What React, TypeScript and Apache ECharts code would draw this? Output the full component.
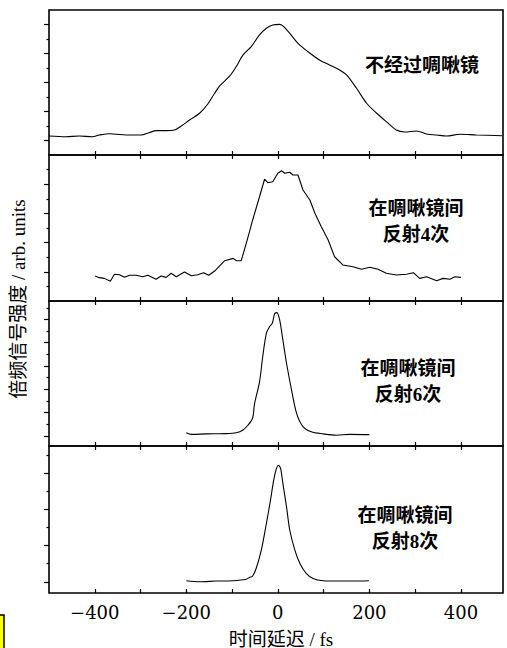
import React, { useEffect, useRef } from "react";
import * as echarts from "echarts";

// ---- data (time delay in fs, SHG intensity in arb. units) ----
const delay1 = [-500, -463, -434, -405, -390, -368, -353, -331, -299, -281, -266, -244, -226, -211, -193, -171, -153, -138, -127, -105, -91, -76, -58, -40, -25, -11, 4, 11, 26, 44, 66, 91, 113, 135, 150, 172, 194, 216, 237, 259, 277, 303, 325, 347, 369, 398, 434, 490];
const signal1 = [1.31, 1.26, 1.31, 1.26, 1.38, 1.47, 1.43, 1.38, 1.38, 1.54, 1.68, 1.68, 1.72, 2.0, 2.41, 2.88, 3.52, 4.26, 4.76, 5.45, 6.09, 6.9, 7.48, 8.28, 8.74, 8.97, 9.01, 8.9, 8.39, 7.7, 7.12, 6.55, 6.21, 5.86, 5.52, 4.6, 3.57, 2.88, 2.3, 1.72, 1.59, 1.66, 1.45, 1.38, 1.31, 1.43, 1.38, 1.33];

const delay2 = [-399, -390, -379, -366, -357, -346, -335, -324, -310, -295, -284, -266, -255, -244, -233, -222, -204, -189, -175, -162, -151, -138, -127, -116, -98, -90, -80, -69, -62, -55, -40, -29, -22, -11, 0, 8, 15, 26, 33, 44, 55, 70, 81, 95, 110, 124, 142, 164, 183, 201, 219, 237, 259, 281, 296, 310, 325, 347, 361, 376, 387, 400];
const signal2 = [1.71, 1.6, 1.55, 1.35, 1.83, 1.8, 1.62, 1.76, 1.76, 1.66, 1.76, 1.49, 1.71, 1.62, 1.9, 1.66, 1.99, 1.73, 1.8, 1.94, 1.76, 2.05, 2.4, 2.76, 2.92, 2.76, 2.76, 3.95, 4.73, 5.55, 7.14, 8.34, 8.1, 8.17, 8.75, 8.92, 8.75, 8.82, 8.63, 8.63, 7.6, 6.92, 6.01, 5.09, 4.18, 3.03, 2.47, 2.35, 2.17, 2.31, 2.17, 1.9, 1.78, 1.83, 1.94, 1.55, 1.66, 1.39, 1.55, 1.49, 1.66, 1.62];

const delay3 = [-200, -189, -156, -113, -91, -76, -65, -55, -51, -40, -33, -25, -18, -12, -7, -2, 4, 11, 19, 30, 41, 55, 73, 99, 128, 157, 200];
const signal3 = [0.14, 0.07, 0.09, 0.1, 0.14, 0.26, 0.47, 0.77, 1.37, 2.32, 3.4, 4.41, 4.69, 4.84, 5.24, 5.29, 4.98, 4.12, 3.12, 1.97, 0.97, 0.4, 0.18, 0.09, 0.03, 0.07, 0.06];

const delay4 = [-200, -171, -135, -98, -69, -62, -55, -47, -36, -25, -16, -9, -3, 1, 6, 11, 19, 26, 37, 48, 62, 77, 99, 135, 172, 199];
const signal4 = [0.03, 0, 0.02, 0.03, 0.07, 0.12, 0.16, 0.38, 0.88, 1.61, 2.26, 2.81, 3.13, 3.22, 3.13, 2.72, 2.07, 1.43, 0.88, 0.51, 0.23, 0.09, 0.03, 0.02, 0.02, 0.03];

// ---- ticks & labels ----
const xTickValues = [-400, -300, -200, -100, 0, 100, 200, 300, 400];
const xLabelValues = [-400, -200, 0, 200, 400];
const yMajor1 = [1, 3, 5, 7, 9];
const yMinor1 = [2, 4, 6, 8];
const yMajor2 = [2, 4, 6, 8];
const yMinor2 = [1, 3, 5, 7, 9];
const yMajor3 = [0, 1, 2, 3, 4, 5];
const yMinor3 = [0.5, 1.5, 2.5, 3.5, 4.5, 5.5];
const yMajor4 = [0, 1, 2, 3];
const yMinor4 = [0.5, 1.5, 2.5, 3.5];

const label1 = ["不经过啁啾镜"];
const label2 = ["在啁啾镜间", "反射4次"];
const label3 = ["在啁啾镜间", "反射6次"];
const label4 = ["在啁啾镜间", "反射8次"];
const xAxisTitle = "时间延迟 / fs";
const yAxisTitle = "倍频信号强度 / arb. units";

export default function App() {
  const ref = useRef<HTMLDivElement>(null);

  useEffect(() => {
    if (!ref.current) return;
    const chart = echarts.init(ref.current, undefined, { renderer: "svg" });

    const panels = [
      { top: 10, height: 145, yMin: 0, yMax: 10, major: yMajor1, minor: yMinor1, topTicks: false, delay: delay1, signal: signal1, smooth: 0.3, labels: label1, lx: 422, ly: 65 },
      { top: 155, height: 146, yMin: 0, yMax: 10, major: yMajor2, minor: yMinor2, topTicks: true, delay: delay2, signal: signal2, smooth: false, labels: label2, lx: 416, ly: 208 },
      { top: 301, height: 145, yMin: -0.43, yMax: 5.79, major: yMajor3, minor: yMinor3, topTicks: true, delay: delay3, signal: signal3, smooth: 0.3, labels: label3, lx: 408, ly: 368 },
      { top: 446, height: 147, yMin: -0.31, yMax: 3.75, major: yMajor4, minor: yMinor4, topTicks: true, delay: delay4, signal: signal4, smooth: 0.3, labels: label4, lx: 405, ly: 515 },
    ];

    const grid: any[] = [];
    const xAxis: any[] = [];
    const yAxis: any[] = [];
    const series: any[] = [];
    const graphic: any[] = [];

    const tickStyle = { color: "#000", width: 1.2 };
    const labelFont = "bold 19px 'Liberation Serif', 'Noto Sans CJK SC'";

    panels.forEach((p, i) => {
      grid.push({
        left: 49,
        top: p.top,
        width: 454,
        height: p.height,
        show: true,
        borderColor: "#000",
        borderWidth: 1.6,
        backgroundColor: "transparent",
      });
      const isLast = i === panels.length - 1;
      xAxis.push({
        gridIndex: i,
        type: "value",
        min: -500,
        max: 492,
        interval: 100,
        position: "bottom",
        axisLine: { show: false, onZero: false },
        splitLine: { show: false },
        axisTick: { show: true, inside: true, length: 4, customValues: xTickValues, lineStyle: tickStyle },
        axisLabel: {
          show: isLast,
          customValues: xLabelValues,
          margin: 10,
          fontSize: 18,
          fontFamily: "DejaVu Serif",
          color: "#000",
          formatter: (v: number) => String(v).replace("-", "\u2212"),
        },
      });
      xAxis.push({
        gridIndex: i,
        type: "value",
        min: -500,
        max: 492,
        interval: 100,
        position: "top",
        axisLine: { show: false, onZero: false },
        splitLine: { show: false },
        axisTick: { show: p.topTicks, inside: true, length: 4, customValues: xTickValues, lineStyle: tickStyle },
        axisLabel: { show: false },
      });
      yAxis.push({
        gridIndex: i,
        type: "value",
        min: p.yMin,
        max: p.yMax,
        position: "left",
        axisLine: { show: false, onZero: false },
        splitLine: { show: false },
        axisLabel: { show: false },
        axisTick: { show: true, inside: false, length: 5, customValues: p.major, lineStyle: tickStyle },
      });
      yAxis.push({
        gridIndex: i,
        type: "value",
        min: p.yMin,
        max: p.yMax,
        position: "left",
        axisLine: { show: false, onZero: false },
        splitLine: { show: false },
        axisLabel: { show: false },
        axisTick: { show: true, inside: false, length: 2.5, customValues: p.minor, lineStyle: tickStyle },
      });
      series.push({
        type: "line",
        xAxisIndex: i * 2,
        yAxisIndex: i * 2,
        data: p.delay.map((d, k) => [d, p.signal[k]]),
        showSymbol: false,
        smooth: p.smooth,
        lineStyle: { color: "#000", width: 1.1 },
        z: 3,
      });
      p.labels.forEach((t, k) => {
        graphic.push({
          type: "text",
          x: p.lx,
          y: p.ly + k * 26,
          style: {
            text: t,
            fill: "#000",
            font: labelFont,
            align: "center",
            verticalAlign: "middle",
          },
        });
      });
    });

    graphic.push({
      type: "text",
      x: 281,
      y: 639,
      style: {
        text: xAxisTitle,
        fill: "#000",
        font: "19px 'Liberation Serif', 'Noto Sans CJK SC'",
        align: "center",
        verticalAlign: "middle",
      },
    });
    graphic.push({
      type: "text",
      x: 18,
      y: 299,
      rotation: Math.PI / 2,
      style: {
        text: yAxisTitle,
        fill: "#000",
        font: "19px 'Liberation Serif', 'Noto Sans CJK SC'",
        align: "center",
        verticalAlign: "middle",
      },
    });
    graphic.push({
      type: "rect",
      shape: { x: -3, y: 615, width: 7, height: 40 },
      style: { fill: "#ffff00", stroke: "#000", lineWidth: 1.5 },
    });

    chart.setOption({
      animation: false,
      backgroundColor: "#fff",
      grid,
      xAxis,
      yAxis,
      series,
      graphic,
    });

    return () => chart.dispose();
  }, []);

  return (
    <div
      ref={ref}
      style={{ position: "absolute", left: 0, top: 0, width: 507, height: 648 }}
    />
  );
}
